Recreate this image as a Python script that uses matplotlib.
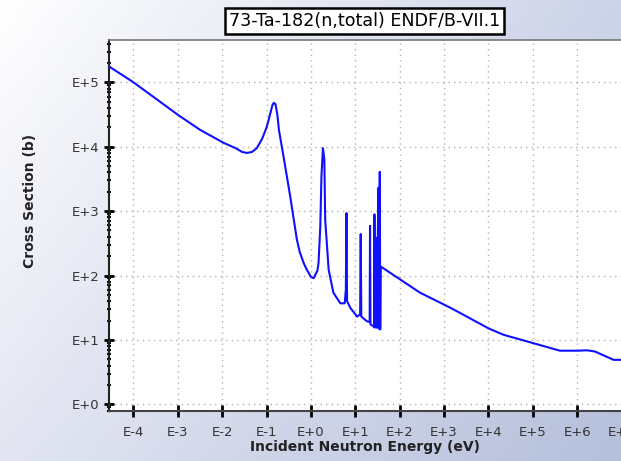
import numpy as np
import matplotlib
matplotlib.use("Agg")
import matplotlib.pyplot as plt
from matplotlib.ticker import LogLocator, FixedLocator, NullFormatter

# ------------------------------------------------------------------------------
# Data (energy in eV, cross section in barns)
# ------------------------------------------------------------------------------

energy_ev = [
    2.75e-5, 1.0e-4, 1.02e-3, 3.2e-3, 1.07e-2, 2.0e-2, 2.8e-2, 3.6e-2,
    4.7e-2, 6.0e-2, 7.9e-2, 0.10, 0.117, 0.135, 0.145, 0.158, 0.174, 0.19,
    0.24, 0.34, 0.48, 0.56, 0.68, 0.79, 1.0, 1.15, 1.40, 1.48, 1.62,
    1.72, 1.86, 2.0, 2.09, 2.5, 3.2, 4.6, 5.75, 6.1, 6.3, 6.5, 7.8, 11.0,
    12.8, 13.2, 13.6, 18.2, 21.0, 21.4, 21.9, 26.5, 26.9, 27.4, 29.5, 30.2,
    33.1, 33.6, 35.5, 36.3, 37.2, 288.0, 1380.0, 6460.0, 1.0e4, 2.19e4,
    1.02e5, 4.07e5, 1.07e6, 1.66e6, 2.51e6, 6.6e6, 1.0e7,
]

cross_section_b = [
    1.78e5, 1.0e5, 3.1e4, 1.82e4, 1.15e4, 9.5e3, 8.3e3, 8.0e3,
    8.3e3, 9.5e3, 1.32e4, 2.0e4, 3.0e4, 4.4e4, 4.8e4, 4.6e4, 3.2e4, 1.8e4,
    7.1e3, 1.7e3, 363, 230, 158, 126, 95, 91, 120, 158, 575,
    3.47e3, 9.5e3, 6.3e3, 740, 123, 54, 37, 37, 60, 930, 40, 31, 23,
    25, 440, 23, 19.5, 19, 590, 17.4, 16, 890, 15.5, 380, 15.5,
    2.3e3, 15, 4.07e3, 14.5, 138, 54, 31.6, 17.8, 15.1, 12.0,
    8.9, 6.8, 6.8, 6.9, 6.6, 4.9, 4.9,
]

x_exponents = list(range(-4, 8))
y_exponents = list(range(0, 6))

title_text = "73-Ta-182(n,total) ENDF/B-VII.1"
x_label = "Incident Neutron Energy (eV)"
y_label = "Cross Section (b)"


def exp_label(n):
    return f"E{n:+d}" if n >= 0 else f"E{n:d}"


# ------------------------------------------------------------------------------
# Figure with gradient background
# ------------------------------------------------------------------------------

fig = plt.figure(figsize=(6.21, 4.61), dpi=100)

bg = fig.add_axes([0, 0, 1, 1], zorder=-10)
gx = np.linspace(0, 1, 200)
gy = np.linspace(0, 1, 150)
X, Y = np.meshgrid(gx, gy)
tl = np.array([1.0, 1.0, 1.0])
tr = np.array([0.80, 0.83, 0.91])
bl = np.array([0.89, 0.90, 0.95])
br = np.array([0.71, 0.75, 0.86])
img = (tl * ((1 - X) * (1 - Y))[..., None] + tr * (X * (1 - Y))[..., None]
       + bl * ((1 - X) * Y)[..., None] + br * (X * Y)[..., None])
bg.imshow(img, aspect="auto", extent=[0, 1, 0, 1], origin="upper")
bg.axis("off")

ax = fig.add_axes([108.5 / 621, 1 - 411 / 461, 1 - 108.5 / 621 + 0.001,
                   (411 - 40) / 461])
ax.set_facecolor("white")

ax.plot(energy_ev, cross_section_b, color="#1010ff", lw=1.5, zorder=3)

ax.set_xscale("log")
ax.set_yscale("log")
ax.set_xlim(10 ** -4.563, 10 ** 7.0)
ax.set_ylim(10 ** -0.104, 10 ** 5.657)

ax.xaxis.set_major_locator(FixedLocator([10.0 ** n for n in x_exponents]))
ax.set_xticklabels([exp_label(n) for n in x_exponents])
ax.xaxis.set_minor_locator(FixedLocator([]))
ax.yaxis.set_major_locator(FixedLocator([10.0 ** n for n in y_exponents]))
ax.set_yticklabels([exp_label(n) for n in y_exponents])
ax.yaxis.set_minor_locator(LogLocator(base=10, subs=np.arange(2, 10)))
ax.yaxis.set_minor_formatter(NullFormatter())

ax.tick_params(axis="x", which="major", direction="inout", length=9,
               width=2, color="black", labelsize=9.5, labelcolor="#333333",
               pad=6)
ax.tick_params(axis="y", which="major", direction="inout", length=7,
               width=2, color="black", labelsize=9.5, labelcolor="#333333",
               pad=3)
ax.tick_params(axis="y", which="minor", direction="inout", length=3.5,
               width=1.5, color="black")

ax.grid(True, which="major", color="#b0b0b0", linestyle=(0, (1, 3)), lw=1)

ax.spines["left"].set_color("#222222")
ax.spines["left"].set_linewidth(1.5)
ax.spines["bottom"].set_color("#444444")
ax.spines["bottom"].set_linewidth(1.5)
ax.spines["top"].set_color("#777777")
ax.spines["top"].set_linewidth(1.2)
ax.spines["right"].set_visible(False)

ax.set_xlabel(x_label, fontsize=10, fontweight="bold", color="#222222",
              labelpad=1)
fig.text(30 / 621, 1 - 201 / 461, y_label, rotation=90, fontsize=10,
         fontweight="bold", color="#222222", ha="center", va="center")

fig.text(364.5 / 621, 1 - 21 / 461, title_text, fontsize=12.6, color="black",
         ha="center", va="center",
         bbox=dict(boxstyle="square,pad=0.24", facecolor="white",
                   edgecolor="black", linewidth=1.8))

fig.savefig("out.png", dpi=100)
